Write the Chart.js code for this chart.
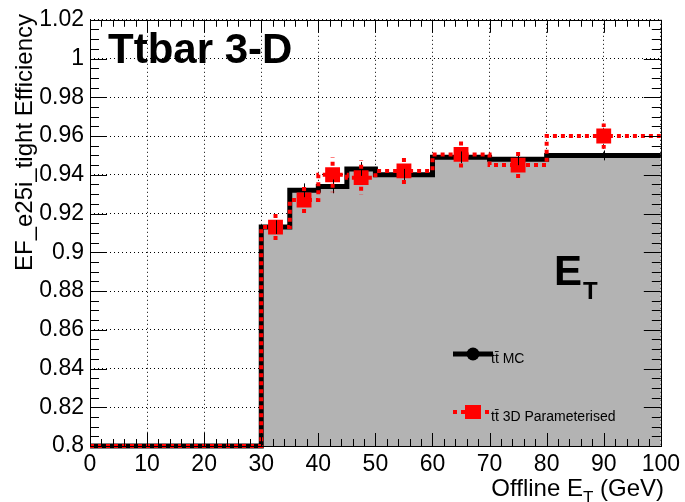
<!DOCTYPE html>
<html>
<head>
<meta charset="utf-8">
<script src="https://cdn.jsdelivr.net/npm/chart.js@4.4.1/dist/chart.umd.min.js"></script>
<style>
  html, body { margin: 0; padding: 0; background: #fff; }
  #wrap { width: 685px; height: 502px; }
</style>
</head>
<body>
<div id="wrap"><canvas id="effChart" width="685" height="502"></canvas></div>
<script>
// Bin edges (GeV) and efficiencies
const binEdges = [0, 30, 35, 40, 45, 50, 60, 70, 80, 100];
const mcEff = [0.8, 0.913, 0.932, 0.934, 0.943, 0.940, 0.949, 0.948, 0.950];
const mcErr = [0, 0.002, 0.002, 0.002, 0.002, 0.0015, 0.0015, 0.0015, 0.001];
const paramEff = [0.8, 0.913, 0.927, 0.940, 0.9385, 0.942, 0.9505, 0.945, 0.960];
const paramErr = [0, 0.008, 0.0085, 0.009, 0.009, 0.0077, 0.0085, 0.0085, 0.0065];
const xTicks = [0, 10, 20, 30, 40, 50, 60, 70, 80, 90, 100];
const yTicks = [0.8, 0.82, 0.84, 0.86, 0.88, 0.9, 0.92, 0.94, 0.96, 0.98, 1, 1.02];

const FONT = '"Liberation Sans", Arial, Helvetica, sans-serif';
const GRAY = '#b3b3b3';
const RED = '#ff0000';

// histogram -> step points (last edge repeats last value)
function stepPoints(values) {
  const pts = values.map((v, i) => ({ x: binEdges[i], y: v }));
  pts.push({ x: binEdges[binEdges.length - 1], y: values[values.length - 1] });
  return pts;
}

// marker points only in filled bins (above threshold)
const paramPoints = [];
paramEff.forEach((v, i) => {
  if (paramErr[i] > 0) {
    paramPoints.push({ x: (binEdges[i] + binEdges[i + 1]) / 2, y: v, err: paramErr[i] });
  }
});
const mcPoints = [];
mcEff.forEach((v, i) => {
  if (mcErr[i] > 0) {
    mcPoints.push({ x: (binEdges[i] + binEdges[i + 1]) / 2, y: v, err: mcErr[i] });
  }
});

// error bars, inner ticks, frame, legend and texts
const rootStyle = {
  id: 'rootStyle',
  afterDatasetsDraw(chart) {
    const ctx = chart.ctx;
    const xs = chart.scales.x, ys = chart.scales.y;
    const area = chart.chartArea;
    ctx.save();

    // MC error bars (thin black)
    ctx.strokeStyle = '#000';
    ctx.lineWidth = 1;
    mcPoints.forEach(p => {
      const px = Math.round(xs.getPixelForValue(p.x)) + 0.5;
      ctx.beginPath();
      ctx.moveTo(px, ys.getPixelForValue(p.y + p.err) - 3);
      ctx.lineTo(px, ys.getPixelForValue(p.y - p.err) + 3);
      ctx.stroke();
    });

    // parameterised error bars (red dotted)
    ctx.strokeStyle = RED;
    ctx.lineWidth = 4;
    ctx.setLineDash([4, 4]);
    paramPoints.forEach(p => {
      const px = xs.getPixelForValue(p.x);
      const py = ys.getPixelForValue(p.y);
      ctx.beginPath();
      ctx.moveTo(px, py - 9);
      ctx.lineTo(px, ys.getPixelForValue(p.y + p.err));
      ctx.moveTo(px, py + 9);
      ctx.lineTo(px, ys.getPixelForValue(p.y - p.err));
      ctx.stroke();
    });
    ctx.setLineDash([]);

    // inside ticks on all four sides
    ctx.strokeStyle = '#000';
    ctx.lineWidth = 1;
    ctx.beginPath();
    for (let v = 0; v <= 100.001; v += 2) {
      const major = Math.abs(v % 10) < 0.001;
      const len = major ? 13 : 7;
      const px = Math.round(xs.getPixelForValue(v)) + 0.5;
      ctx.moveTo(px, area.bottom); ctx.lineTo(px, area.bottom - len);
      ctx.moveTo(px, area.top); ctx.lineTo(px, area.top + len);
    }
    for (let k = 0; k <= 44; k++) {
      const v = 0.8 + k * 0.005;
      const major = k % 4 === 0;
      const len = major ? 17 : 9;
      const py = Math.round(ys.getPixelForValue(v)) + 0.5;
      ctx.moveTo(area.left, py); ctx.lineTo(area.left + len, py);
      ctx.moveTo(area.right, py); ctx.lineTo(area.right - len, py);
    }
    ctx.stroke();

    // frame
    ctx.strokeRect(Math.round(area.left) + 0.5, Math.round(area.top) + 0.5,
      Math.round(area.right - area.left), Math.round(area.bottom - area.top));

    // legend
    ctx.lineWidth = 5;
    ctx.beginPath();
    ctx.moveTo(453, 354); ctx.lineTo(493, 354);
    ctx.stroke();
    ctx.fillStyle = '#000';
    ctx.beginPath();
    ctx.arc(473, 354, 6.5, 0, Math.PI * 2);
    ctx.fill();
    ctx.strokeStyle = RED;
    ctx.lineWidth = 4;
    ctx.setLineDash([4, 4]);
    ctx.beginPath();
    ctx.moveTo(453, 412); ctx.lineTo(493, 412);
    ctx.stroke();
    ctx.setLineDash([]);
    ctx.fillStyle = RED;
    ctx.fillRect(465, 405, 16, 14);

    ctx.fillStyle = '#000';
    ctx.font = '14px ' + FONT;
    ctx.textBaseline = 'alphabetic';
    ctx.textAlign = 'left';
    ctx.fillText('tt\u0304 MC', 491, 363);
    ctx.fillText('tt\u0304 3D Parameterised', 491, 421);

    // big E_T label
    ctx.font = 'bold 42px ' + FONT;
    ctx.fillText('E', 554, 285);
    ctx.font = 'bold 24px ' + FONT;
    ctx.fillText('T', 583, 299);

    // title
    ctx.font = 'bold 42px ' + FONT;
    ctx.fillText('Ttbar 3-D', 108, 63);

    // x axis title
    ctx.font = '24px ' + FONT;
    ctx.textAlign = 'right';
    const tail = ' (GeV)';
    const tailW = ctx.measureText(tail).width;
    ctx.fillText(tail, 664, 496);
    ctx.font = '17px ' + FONT;
    const tW = ctx.measureText('T').width;
    ctx.fillText('T', 664 - tailW, 503);
    ctx.font = '24px ' + FONT;
    ctx.fillText('Offline E', 664 - tailW - tW, 496);

    // y axis title
    ctx.save();
    ctx.translate(32, 14);
    ctx.rotate(-Math.PI / 2);
    ctx.textAlign = 'right';
    ctx.fillText('EF_e25i_tight Efficiency', 0, 0);
    ctx.restore();

    ctx.restore();
  }
};

new Chart(document.getElementById('effChart'), {
  type: 'line',
  data: {
    datasets: [
      {
        label: 'tt 3D Parameterised points',
        data: paramPoints,
        showLine: false,
        pointStyle: 'rect',
        pointRadius: 10.5,
        pointBackgroundColor: RED,
        pointBorderColor: RED,
        pointBorderWidth: 0
      },
      {
        label: 'tt 3D Parameterised',
        data: stepPoints(paramEff),
        stepped: true,
        borderColor: RED,
        borderWidth: 4,
        borderDash: [4, 4],
        pointRadius: 0,
        fill: false,
        clip: 3
      },
      {
        label: 'tt MC',
        data: stepPoints(mcEff),
        stepped: true,
        borderColor: '#000',
        borderWidth: 5,
        backgroundColor: GRAY,
        pointRadius: 0,
        fill: 'start',
        clip: 3
      }
    ]
  },
  options: {
    responsive: false,
    animation: false,
    layout: { padding: { top: 14, right: 19, left: 0, bottom: 0 } },
    plugins: { legend: { display: false }, tooltip: { enabled: false } },
    scales: {
      x: {
        type: 'linear',
        min: 0,
        max: 100,
        afterFit: s => { s.height = 56; },
        afterBuildTicks: s => { s.ticks = xTicks.map(v => ({ value: v })); },
        grid: { color: '#000', lineWidth: 1, drawTicks: false },
        border: { display: false, dash: [1, 3] },
        ticks: {
          autoSkip: false,
          maxRotation: 0,
          padding: 5,
          color: '#000',
          font: { family: FONT, size: 23 },
          callback: v => String(v)
        }
      },
      y: {
        type: 'linear',
        min: 0.8,
        max: 1.02,
        afterFit: s => { s.width = 90; },
        afterBuildTicks: s => { s.ticks = yTicks.map(v => ({ value: v })); },
        grid: { color: '#000', lineWidth: 1, drawTicks: false },
        border: { display: false, dash: [1, 3] },
        ticks: {
          autoSkip: false,
          padding: 6,
          color: '#000',
          font: { family: FONT, size: 23 },
          callback: v => String(Number(v.toFixed(2)))
        }
      }
    }
  },
  plugins: [rootStyle]
});
</script>
</body>
</html>
